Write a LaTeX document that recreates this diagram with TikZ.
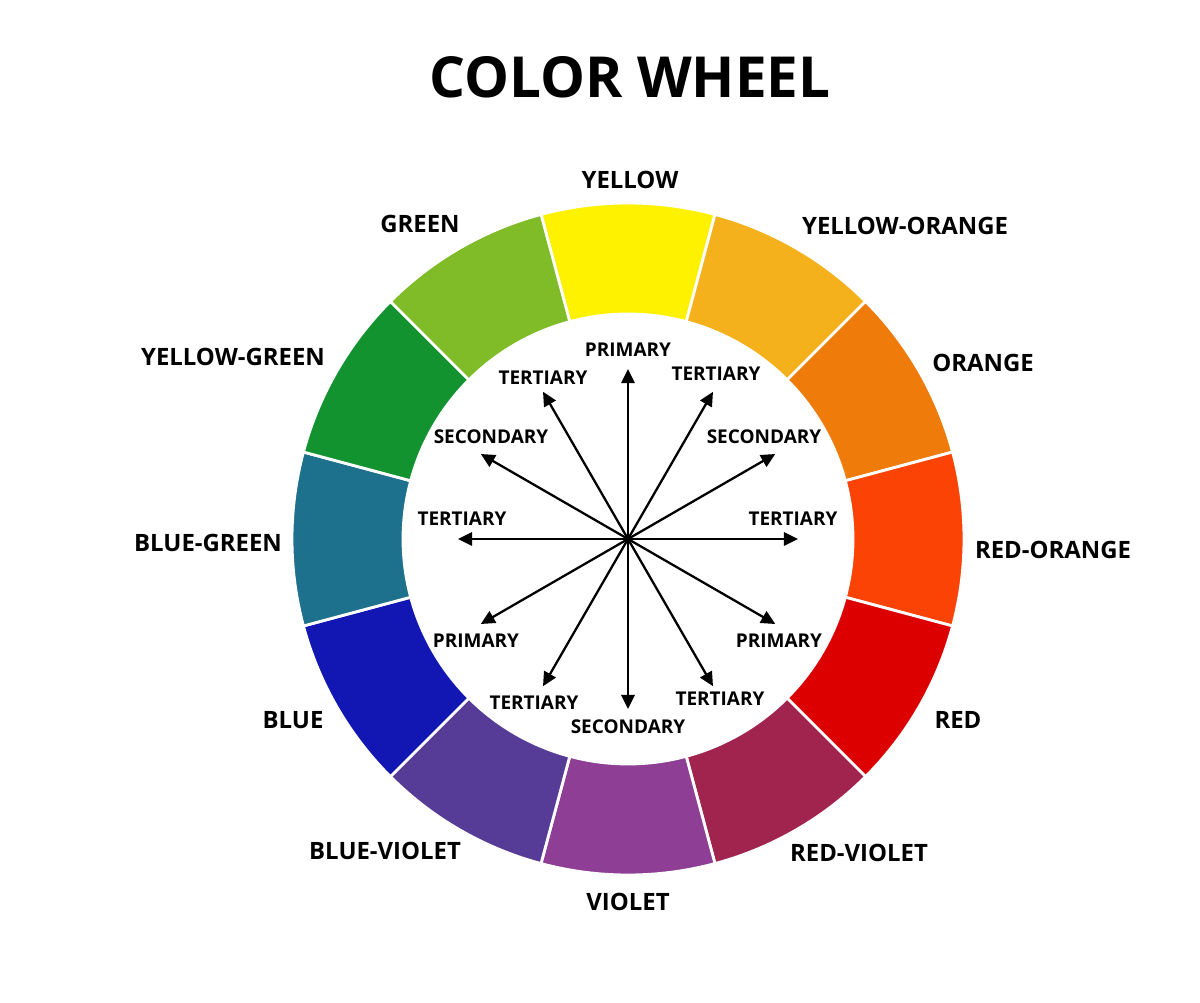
\documentclass[tikz,border=0pt]{standalone}
\usepackage{fontspec}
\setmainfont{Open Sans}
\usetikzlibrary{arrows.meta}

\definecolor{cwyellow}{HTML}{FFF200}
\definecolor{cwyelloworange}{HTML}{F5B11C}
\definecolor{cworange}{HTML}{EE7B0A}
\definecolor{cwredorange}{HTML}{FA4305}
\definecolor{cwred}{HTML}{DC0000}
\definecolor{cwredviolet}{HTML}{A1244F}
\definecolor{cwviolet}{HTML}{8F3E95}
\definecolor{cwblueviolet}{HTML}{573C97}
\definecolor{cwblue}{HTML}{1217B4}
\definecolor{cwbluegreen}{HTML}{1E718C}
\definecolor{cwdarkgreen}{HTML}{13932F}
\definecolor{cwlightgreen}{HTML}{7FBC27}

\tikzset{
  title/.style={font=\bfseries\fontsize{32.2}{36}\selectfont},
  hue/.style={font=\bfseries\fontsize{13.6}{15}\selectfont},
  kind/.style={font=\bfseries\fontsize{10.8}{12}\selectfont},
  ray/.style={line width=1.3pt,-{Triangle[length=8pt,width=7.5pt]}},
}

\begin{document}
\begin{tikzpicture}
  \useasboundingbox (-12.56,-9.26) rectangle (11.44,10.78);

  \node[title] (t) at (0.04,9.24) {COLOR WHEEL};

  \foreach \a/\c in {90/cwyellow,60/cwyelloworange,30/cworange,0/cwredorange,
    -30/cwred,-60/cwredviolet,-90/cwviolet,-120/cwblueviolet,-150/cwblue,
    180/cwbluegreen,150/cwdarkgreen,120/cwlightgreen}
    \filldraw[fill=\c,draw=white,line width=1.6pt]
      (\a-15:4.5) arc[start angle=\a-15,end angle=\a+15,radius=4.5]
      -- (\a+15:6.72) arc[start angle=\a+15,end angle=\a-15,radius=6.72] -- cycle;

  \node (y) at (0.04,7.18) [hue] {YELLOW};
  \node (g) at (-4.16,6.3) [hue] {GREEN};
  \node (yo) at (5.54,6.26) [hue] {YELLOW-ORANGE};
  \node (yg) at (-7.9,3.64) [hue] {YELLOW-GREEN};
  \node (o) at (7.1,3.52) [hue] {ORANGE};
  \node (bg) at (-8.4,-0.08) [hue] {BLUE-GREEN};
  \node (ro) at (8.5,-0.22) [hue] {RED-ORANGE};
  \node (b) at (-6.7,-3.62) [hue] {BLUE};
  \node (r) at (6.6,-3.62) [hue] {RED};
  \node (bv) at (-4.86,-6.24) [hue] {BLUE-VIOLET};
  \node (rv) at (4.62,-6.28) [hue] {RED-VIOLET};
  \node (v) at (0,-7.26) [hue] {VIOLET};

  \node (c) at (0,0) [circle,fill=black,inner sep=0pt,minimum size=5pt] {};
  \foreach \a in {0,30,...,330}
    \coordinate (e\a) at (\a:3.4);
  \foreach \a in {0,30,...,330}
    \draw[ray] (c.center) -- (e\a);

  \node (k90) at (0,3.78) [kind] {PRIMARY};
  \node (k120) at (-1.7,3.22) [kind] {TERTIARY};
  \node (k60) at (1.76,3.3) [kind] {TERTIARY};
  \node (k150) at (-2.74,2.04) [kind] {SECONDARY};
  \node (k30) at (2.72,2.04) [kind] {SECONDARY};
  \node (k180) at (-3.32,0.4) [kind] {TERTIARY};
  \node (k0) at (3.3,0.4) [kind] {TERTIARY};
  \node (k210) at (-3.04,-2.04) [kind] {PRIMARY};
  \node (k330) at (3.02,-2.04) [kind] {PRIMARY};
  \node (k240) at (-1.88,-3.28) [kind] {TERTIARY};
  \node (k300) at (1.84,-3.2) [kind] {TERTIARY};
  \node (k270) at (0,-3.76) [kind] {SECONDARY};
\end{tikzpicture}
\end{document}
